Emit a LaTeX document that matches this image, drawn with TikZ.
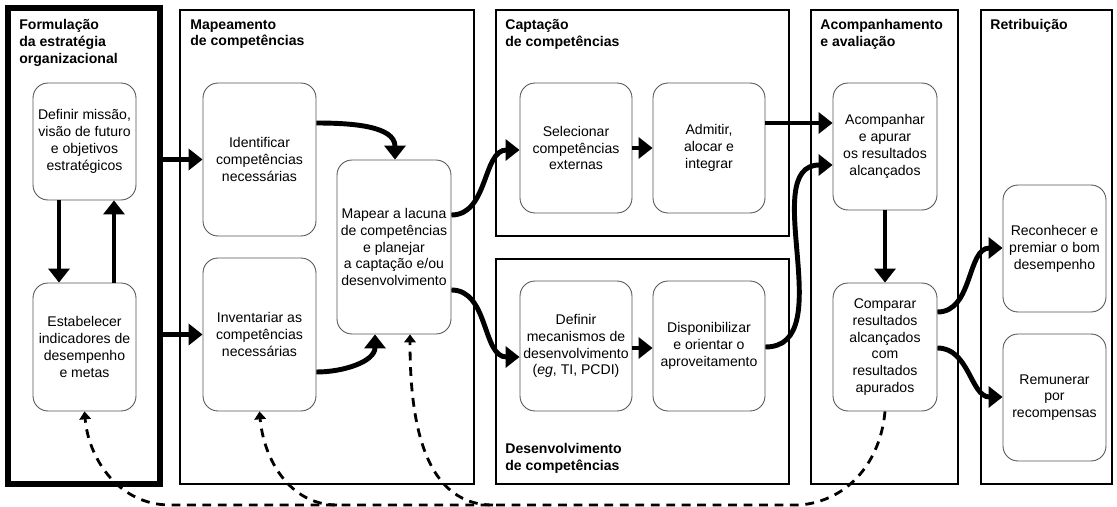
\documentclass[tikz,border=0pt]{standalone}
\usepackage{fontspec}
\setmainfont{Liberation Sans}
\definecolor{boxgray}{RGB}{85,85,85}
\usetikzlibrary{arrows.meta,calc}

\begin{document}
\begin{tikzpicture}[x=0.02cm,y=-0.02cm,
  font=\fontsize{8}{9.6}\selectfont,
  painel/.style={draw,line width=0.9pt},
  titulo/.style={anchor=north west,inner sep=0pt,align=left,font=\fontsize{8}{9.6}\selectfont\bfseries},
  acao/.style={draw=boxgray,line width=0.5pt,rounded corners=0.3cm,align=center,inner sep=1pt},
  fluxo/.style={line width=2.8pt,-{Triangle[length=8pt,width=12pt]}},
  retorno/.style={line width=1.6pt,dash pattern=on 5pt off 3.8pt,-{Triangle[length=4.5pt,width=6.5pt]}}]
\useasboundingbox (0,0) rectangle (1117,507);
\draw[painel,line width=3.2pt] (8,8) rectangle (160,484);
\coordinate (bordaform) at (160,484);
\draw[painel] (180,10) rectangle (474,484);
\draw[painel] (496,10) rectangle (789,236);
\draw[painel] (496,259) rectangle (789,484);
\draw[painel] (811,10) rectangle (958,484);
\draw[painel] (981,10) rectangle (1112,484);
\node[titulo] (tformulacao) at (19,19) {Formulação\\da estratégia\\organizacional};
\node[titulo] (tmapeamento) at (190,19) {Mapeamento\\de competências};
\node[titulo] (tcaptacao) at (505,19) {Captação\\de competências};
\node[titulo,anchor=south west] (tdesenv) at (505,474) {Desenvolvimento\\de competências};
\node[titulo] (tacomp) at (820,19) {Acompanhamento\\e avaliação};
\node[titulo] (tretrib) at (990,19) {Retribuição};
\node[acao,minimum width=2.06cm,minimum height=2.34cm] (missao) at (84.5,141.5) {Definir missão,\\visão de futuro\\e objetivos\\estratégicos};
\node[acao,minimum width=2.06cm,minimum height=2.56cm] (indicadores) at (84.5,347) {Estabelecer\\indicadores de\\desempenho\\e metas};
\node[acao,minimum width=2.26cm,minimum height=3.06cm] (identificar) at (259.5,159.5) {Identificar\\competências\\necessárias};
\node[acao,minimum width=2.26cm,minimum height=3.06cm] (inventariar) at (259.5,334.5) {Inventariar as\\competências\\necessárias};
\node[acao,minimum width=2.28cm,minimum height=3.48cm] (mapear) at (394,247) {Mapear a lacuna\\de competências\\e planejar\\a captação e/ou\\desenvolvimento};
\node[acao,minimum width=2.24cm,minimum height=2.6cm] (selecionar) at (576,148) {Selecionar\\competências\\externas};
\node[acao,minimum width=2.24cm,minimum height=2.6cm] (admitir) at (709,148) {Admitir,\\alocar e\\integrar};
\node[acao,minimum width=2.24cm,minimum height=2.6cm] (mecanismos) at (576,346) {Definir\\mecanismos de\\desenvolvimento\\(\textit{eg}, TI, PCDI)};
\node[acao,minimum width=2.24cm,minimum height=2.6cm] (disponibilizar) at (709,346) {Disponibilizar\\e orientar o\\aproveitamento};
\node[acao,minimum width=2.08cm,minimum height=2.54cm] (acompanhar) at (885,146.5) {Acompanhar\\e apurar\\os resultados\\alcançados};
\node[acao,minimum width=2.08cm,minimum height=2.56cm] (comparar) at (885,347) {Comparar\\resultados\\alcançados\\com\\resultados\\apurados};
\node[acao,minimum width=2.06cm,minimum height=2.54cm] (reconhecer) at (1054.5,248.5) {Reconhecer e\\premiar o bom\\desempenho};
\node[acao,minimum width=2.06cm,minimum height=2.54cm] (remunerar) at (1054.5,397.5) {Remunerar\\por\\recompensas};
\draw[fluxo] (bordaform |- identificar.west) -- (identificar.west);
\draw[fluxo] (bordaform |- inventariar.west) -- (inventariar.west);
\draw[fluxo] ($(missao.south)+(-25.5,0)$) -- ($(indicadores.north)+(-25.5,0)$);
\draw[fluxo] ($(indicadores.north)+(29.5,0)$) -- ($(missao.south)+(29.5,0)$);
\draw[fluxo] ($(identificar.east)+(0,-36.5)$) to[out=0,in=90] ($(mapear.north)+(1,0)$);
\draw[fluxo] ($(inventariar.east)+(0,37.5)$) to[out=0,in=-90] ($(mapear.south)+(-19,0)$);
\draw[fluxo] ($(mapear.east)+(0,-32)$) to[out=0,in=180] ($(selecionar.west)+(0,2)$);
\draw[fluxo] ($(mapear.east)+(0,43)$) to[out=0,in=180] ($(mecanismos.west)+(0,11)$);
\draw[fluxo] (selecionar.east) -- (admitir.west);
\draw[fluxo] ($(mecanismos.east)+(0,2)$) -- ($(disponibilizar.west)+(0,2)$);
\draw[fluxo] ($(admitir.east)+(0,-25)$) -- ($(acompanhar.west)+(0,-23.5)$);
\draw[fluxo] ($(disponibilizar.east)+(0,1)$) to[out=0,in=180] ($(acompanhar.west)+(0,18.5)$);
\draw[fluxo] (acompanhar.south) -- (comparar.north);
\draw[fluxo] ($(comparar.east)+(0,-35)$) to[out=0,in=180] ($(reconhecer.west)+(0,-0.5)$);
\draw[fluxo] ($(comparar.east)+(0,1)$) to[out=0,in=180] ($(remunerar.west)+(0,-0.5)$);
\coordinate (dobra) at (800,505);
\coordinate (fimlinha) at (170,505);
\coordinate (ramoa) at (337,505);
\coordinate (ramob) at (493,505);
\draw[retorno] (comparar.south) to[out=-95,in=5] (dobra) -- (fimlinha) to[out=180,in=-85] (indicadores.south);
\draw[retorno] (ramoa) to[out=180,in=-85] (inventariar.south);
\draw[retorno] (ramob) to[out=180,in=-90] ($(mapear.south)+(16,0)$);
\end{tikzpicture}
\end{document}
